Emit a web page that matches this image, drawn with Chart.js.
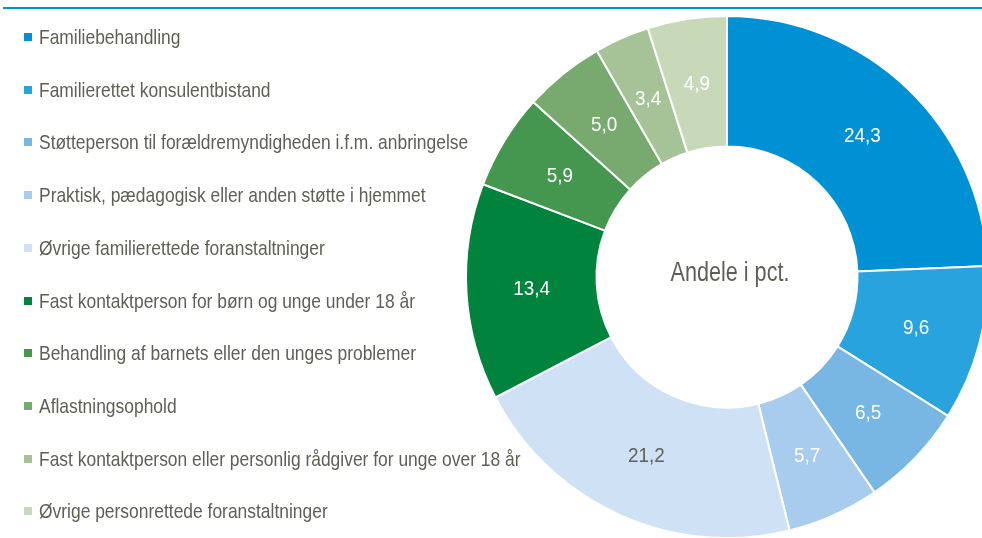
<!DOCTYPE html>
<html>
<head>
<meta charset="utf-8">
<script src="https://cdn.jsdelivr.net/npm/chart.js@4/dist/chart.umd.min.js"></script>
<style>
  html, body { margin: 0; padding: 0; background: #fff; }
  #wrap { position: relative; width: 982px; height: 538px; overflow: hidden; font-family: "Liberation Sans", Arial, sans-serif; }
  #topline { position: absolute; left: 3px; right: 0; top: 7px; height: 2px; background: #0090d4; }
  #chartBox { position: absolute; left: 0; top: 0; width: 1000px; height: 560px; }
  #legend { position: absolute; left: 0; top: 0; margin: 0; padding: 0; list-style: none; }
  #legend li { position: absolute; left: 24px; height: 24px; line-height: 24px; white-space: nowrap; }
  #legend span.box { position: absolute; left: 0; top: 8px; width: 8px; height: 8px; }
  #legend span.txt { position: absolute; left: 15px; top: 0; font-size: 21px; color: #5f5f55;
                     transform: scaleX(0.83); transform-origin: left center; }
</style>
</head>
<body>
<div id="wrap">
  <div id="topline"></div>
  <div id="chartBox"><canvas id="donut" width="1000" height="560"></canvas></div>
  <ul id="legend"></ul>
</div>
<script>
// ---- data ----
const categories = [
  "Familiebehandling",
  "Familierettet konsulentbistand",
  "Støtteperson til forældremyndigheden i.f.m. anbringelse",
  "Praktisk, pædagogisk eller anden støtte i hjemmet",
  "Øvrige familierettede foranstaltninger",
  "Fast kontaktperson for børn og unge under 18 år",
  "Behandling af barnets eller den unges problemer",
  "Aflastningsophold",
  "Fast kontaktperson eller personlig rådgiver for unge over 18 år",
  "Øvrige personrettede foranstaltninger"
];
const shares = [24.3, 9.6, 6.5, 5.7, 21.2, 13.4, 5.9, 5.0, 3.4, 4.9];
const colors = ["#0090d4", "#28a3dd", "#78b6e4", "#a8cced", "#cfe2f5",
                "#00843d", "#45964f", "#78aa6f", "#a5c396", "#c7d9b9"];
const labelColors = ["#fff", "#fff", "#fff", "#fff", "#5f5f55",
                     "#fff", "#fff", "#fff", "#fff", "#fff"];
const centerText = "Andele i pct.";

// ---- legend (html) ----
const ul = document.getElementById("legend");
categories.forEach((c, i) => {
  const li = document.createElement("li");
  li.style.top = (25 + i * 52.7) + "px";
  li.innerHTML = '<span class="box" style="background:' + colors[i] + '"></span><span class="txt">' + c + '</span>';
  ul.appendChild(li);
});

// ---- plugins ----
function narrowText(ctx, text, x, y, sx) {
  ctx.save();
  ctx.translate(x, y);
  ctx.scale(sx, 1);
  ctx.fillText(text, 0, 0);
  ctx.restore();
}

const sliceLabels = {
  id: "sliceLabels",
  afterDatasetsDraw(chart) {
    const ctx = chart.ctx;
    const meta = chart.getDatasetMeta(0);
    ctx.save();
    ctx.font = '21px "Liberation Sans", Arial, sans-serif';
    ctx.textAlign = "center";
    ctx.textBaseline = "middle";
    meta.data.forEach((arc, i) => {
      const p = arc.tooltipPosition();
      ctx.fillStyle = labelColors[i];
      narrowText(ctx, shares[i].toFixed(1).replace(".", ","), p.x, p.y + 1, 0.9);
    });
    ctx.restore();
  }
};
const centerLabel = {
  id: "centerLabel",
  afterDraw(chart) {
    const ctx = chart.ctx;
    const arc = chart.getDatasetMeta(0).data[0];
    ctx.save();
    ctx.font = '27px "Liberation Sans", Arial, sans-serif';
    ctx.fillStyle = "#5f5f55";
    ctx.textAlign = "center";
    ctx.textBaseline = "middle";
    narrowText(ctx, centerText, arc.x + 3, arc.y - 3, 0.8);
    ctx.restore();
  }
};

new Chart(document.getElementById("donut"), {
  type: "doughnut",
  data: {
    labels: categories,
    datasets: [{ data: shares, backgroundColor: colors, borderColor: "#fff", borderWidth: 2 }]
  },
  options: {
    responsive: false,
    animation: false,
    cutout: "50%",
    layout: { padding: { left: 465, top: 15, right: 11, bottom: 21 } },
    plugins: { legend: { display: false }, tooltip: { enabled: false } }
  },
  plugins: [sliceLabels, centerLabel]
});
</script>
</body>
</html>
